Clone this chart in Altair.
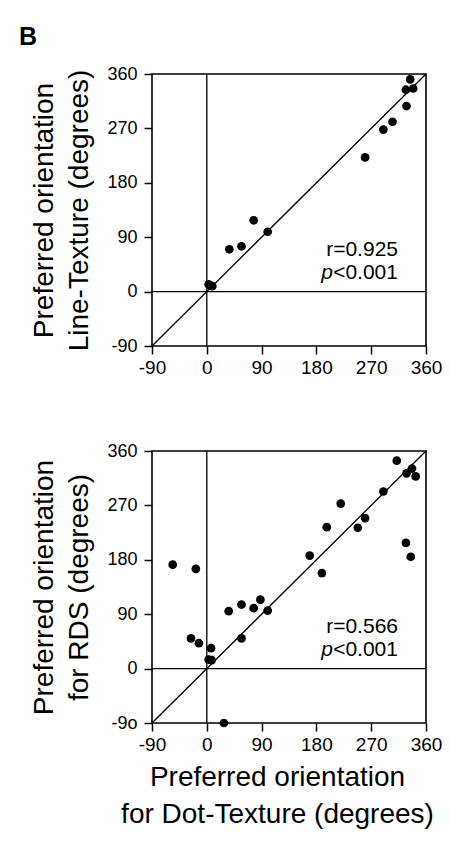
import altair as alt
import pandas as pd

# Panel 1: Dot-Texture vs Line-Texture
dot_x1 = [334, 327, 339, 328, 305, 290, 260, 100, 77, 57, 37, 3, 6, 9]
line_y1 = [351, 334, 336, 307, 281, 268, 222, 99, 118, 75, 70, 12, 10, 9]

# Panel 2: Dot-Texture vs RDS
dot_x2 = [312, 328, 337, 343, 290, 220, 260, 248, 197, 327, 335, 169, 189,
          -56, -18, 36, 57, 77, 88, 100, 57, -26, -13, 7, 3, 8, 28]
rds_y2 = [344, 323, 331, 318, 293, 273, 249, 233, 234, 208, 185, 187, 158,
          172, 165, 95, 106, 100, 114, 96, 50, 50, 42, 34, 15, 14, -90]

tick_values = [-90, 0, 90, 180, 270, 360]
stats1 = ["r=0.925", "<0.001"]
stats2 = ["r=0.566", "<0.001"]

FONT = "Liberation Sans"
W, H = 274, 272

df1 = pd.DataFrame({"x": dot_x1, "y": line_y1})
df2 = pd.DataFrame({"x": dot_x2, "y": rds_y2})


def panel(df, ytitle, xtitle, stats, ylabel_expr, show_b=False):
    xscale = alt.Scale(domain=[-90, 360], nice=False, zero=False)
    yscale = alt.Scale(domain=[-90, 360], nice=False, zero=False)
    xaxis_kw = dict(values=tick_values, labelExpr="toString(datum.value)",
                    labelFlush=False, labelOverlap=False, labelFontSize=19,
                    labelPadding=4)
    if xtitle is not None:
        xaxis_kw["title"] = xtitle
        xaxis_kw["titleX"] = 125
        xaxis_kw["titleAlign"] = "center"
        xaxis_kw["titleLineHeight"] = 37
        xaxis_kw["titlePadding"] = 9
    else:
        xaxis_kw["title"] = None
    yaxis_kw = dict(values=tick_values, title=ytitle, labelOverlap=False,
                    labelExpr=ylabel_expr, labelFontSize=18, labelPadding=7,
                    titlePadding=13)

    pts = alt.Chart(df).mark_circle(size=76, color="black", opacity=1).encode(
        x=alt.X("x:Q", scale=xscale, axis=alt.Axis(**xaxis_kw)),
        y=alt.Y("y:Q", scale=yscale, axis=alt.Axis(**yaxis_kw)),
    )
    diag = alt.Chart().mark_rule(color="black", strokeWidth=1.3).encode(
        x=alt.datum(-90), y=alt.datum(-90), x2=alt.datum(360), y2=alt.datum(360)
    )
    vline = alt.Chart().mark_rule(color="black", strokeWidth=1.3).encode(
        x=alt.datum(0)
    )
    hline = alt.Chart().mark_rule(color="black", strokeWidth=1.3).encode(
        y=alt.datum(0)
    )
    t1 = alt.Chart().mark_text(align="right", baseline="middle", font=FONT,
                               fontSize=21, color="black").encode(
        x=alt.datum(314), y=alt.datum(69), text=alt.value(stats[0])
    )
    t2 = alt.Chart().mark_text(align="right", baseline="middle", font=FONT,
                               fontSize=21, color="black").encode(
        x=alt.datum(314), y=alt.datum(31), text=alt.value(stats[1])
    )
    tp = alt.Chart().mark_text(align="right", baseline="middle", font=FONT,
                               fontSize=21, fontStyle="italic", color="black",
                               dx=-65).encode(
        x=alt.datum(314), y=alt.datum(31), text=alt.value("p")
    )
    layers = [vline, hline, diag, pts, t1, t2, tp]
    if show_b:
        b = alt.Chart().mark_text(align="left", baseline="alphabetic", font=FONT,
                                  fontSize=25, fontWeight="bold",
                                  color="black").encode(
            x=alt.value(-133), y=alt.value(-29), text=alt.value("B")
        )
        layers.append(b)
    return alt.layer(*layers).properties(width=W, height=H)


top = panel(df1, ["Preferred orientation", "Line-Texture (degrees)"], None,
            stats1, "toString(datum.value)", show_b=True)
bottom = panel(df2, ["Preferred orientation", "for RDS (degrees)"],
               ["Preferred orientation", "for Dot-Texture (degrees)"], stats2,
               "datum.value == -90 ? '-9o' : toString(datum.value)")

chart = alt.vconcat(top, bottom, spacing=63).properties(
    padding={"left": 10, "top": 16, "right": 0, "bottom": 0}
).configure_view(
    stroke="black", strokeWidth=1.6
).configure_axis(
    domain=False, grid=False, tickColor="black", tickSize=8, tickWidth=1.5,
    labelFont=FONT, labelColor="black",
    titleFont=FONT, titleFontSize=28, titleFontWeight="normal",
    titleColor="black", titleLineHeight=35, titlePadding=6
)

chart.save("out.html", embed_options={"renderer": "svg", "actions": False})
